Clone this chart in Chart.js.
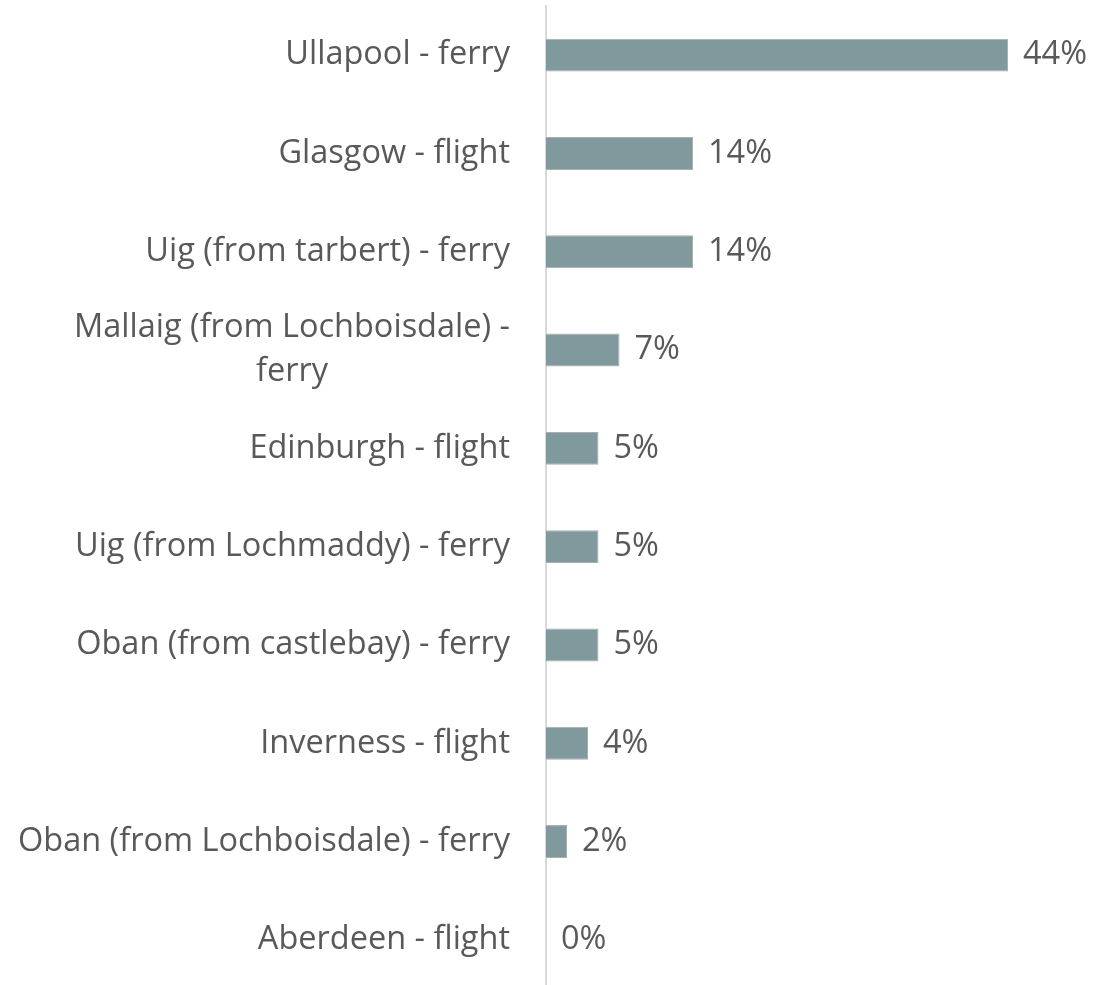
<!DOCTYPE html>
<html>
<head>
<meta charset="utf-8">
<script src="https://cdn.jsdelivr.net/npm/chart.js@4.4.1/dist/chart.umd.min.js"></script>
<style>
    html, body { margin: 0; padding: 0; background: #ffffff; overflow: hidden; }
    #wrap { width: 1099px; height: 985px; overflow: hidden; }
</style>
</head>
<body>
<div id="wrap"><canvas id="chart" width="1099" height="989"></canvas></div>
<script>
// Data
const categories = [
    ['Ullapool - ferry'],
    ['Glasgow - flight'],
    ['Uig (from tarbert) - ferry'],
    ['Mallaig (from Lochboisdale) -', 'ferry'],
    ['Edinburgh - flight'],
    ['Uig (from Lochmaddy) - ferry'],
    ['Oban (from castlebay) - ferry'],
    ['Inverness - flight'],
    ['Oban (from Lochboisdale) - ferry'],
    ['Aberdeen - flight']
];
const shares = [44, 14, 14, 7, 5, 5, 5, 4, 2, 0];
const valueLabels = ['44%', '14%', '14%', '7%', '5%', '5%', '5%', '4%', '2%', '0%'];

const FONT = "'Open Sans', sans-serif";
const FONT_SIZE = 32.5;
const TEXT = '#595959';

// Category labels (right-aligned block, lines centred inside it like Excel)
const categoryLabels = {
    id: 'categoryLabels',
    afterDraw(chart) {
        const { ctx, scales: { y } } = chart;
        const right = y.right - 36;
        const lineH = 44;
        ctx.save();
        ctx.font = FONT_SIZE + 'px ' + FONT;
        ctx.fillStyle = TEXT;
        ctx.textBaseline = 'middle';
        ctx.textAlign = 'center';
        categories.forEach((lines, i) => {
            const cy = y.getPixelForValue(i);
            const blockW = Math.max(...lines.map(l => ctx.measureText(l).width));
            const cx = right - blockW / 2;
            const y0 = cy - (lines.length - 1) * lineH / 2;
            lines.forEach((l, j) => ctx.fillText(l, cx, y0 + j * lineH));
        });
        ctx.restore();
    }
};

// Value labels at the end of each bar
const valueLabelsPlugin = {
    id: 'valueLabels',
    afterDatasetsDraw(chart) {
        const { ctx } = chart;
        const meta = chart.getDatasetMeta(0);
        ctx.save();
        ctx.font = FONT_SIZE + 'px ' + FONT;
        ctx.fillStyle = TEXT;
        ctx.textBaseline = 'middle';
        ctx.textAlign = 'left';
        meta.data.forEach((bar, i) => {
            ctx.fillText(valueLabels[i], bar.x + 15, bar.y);
        });
        ctx.restore();
    }
};

new Chart(document.getElementById('chart'), {
    type: 'bar',
    data: {
        labels: categories.map(c => c.join(' ')),
        datasets: [{
            data: shares,
            backgroundColor: '#7f999c',
            borderColor: '#a9aeaf',
            borderWidth: 1,
            borderSkipped: 'left',
            categoryPercentage: 1,
            barPercentage: 0.335
        }]
    },
    options: {
        indexAxis: 'y',
        responsive: false,
        animation: false,
        layout: { autoPadding: false, padding: { top: 6, right: 28, bottom: 0, left: 0 } },
        plugins: {
            legend: { display: false },
            tooltip: { enabled: false }
        },
        scales: {
            x: {
                display: false,
                min: 0,
                max: 50
            },
            y: {
                afterFit(scale) { scale.width = 546; },
                ticks: { display: false },
                grid: { drawOnChartArea: false, drawTicks: false },
                border: { display: true, color: '#d9d9d9', width: 2 }
            }
        }
    },
    plugins: [categoryLabels, valueLabelsPlugin]
});
</script>
</body>
</html>
